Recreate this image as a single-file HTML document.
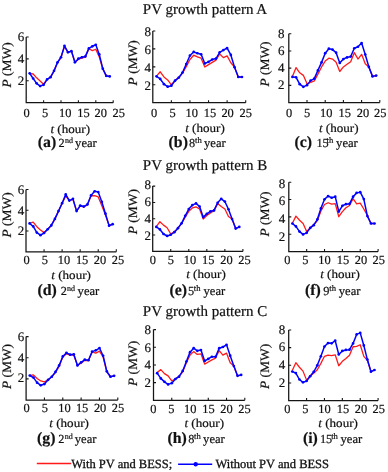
<!DOCTYPE html>
<html><head><meta charset="utf-8"><style>
html,body{margin:0;padding:0;background:#fff;width:388px;height:472px;overflow:hidden}
svg{display:block;will-change:transform;filter:blur(0.35px)}
text{text-rendering:geometricPrecision;font-family:"Liberation Serif",serif;fill:#111;stroke:#111;stroke-width:0.2px}
.ax{fill:none;stroke:#141414;stroke-width:1.25}
.tk{fill:none;stroke:#141414;stroke-width:1.1}
.rd{fill:none;stroke:#ff1a1a;stroke-width:1.3;stroke-linejoin:round}
.bl{fill:none;stroke:#0000ff;stroke-width:1.5;stroke-linejoin:round}
.dt circle{fill:#0000ff}
.tl{font-size:12.4px}
.ytl{font-size:13.0px}
.pl{font-size:12.8px}
.tlb{font-size:12px}
.bd{font-weight:bold;font-size:15.8px}
.cp{font-size:12.3px}
.yr{font-size:12.6px}
.nd{font-size:8.0px}
.th{font-size:8.6px}
.tt{font-size:15px}
.lg{font-size:12.5px;stroke-width:0.3px}
</style></head><body>
<svg width="388" height="472" viewBox="0 0 388 472">
<text transform="translate(205 14.2) scale(1 1)" class="tt" text-anchor="middle">PV growth pattern A</text><text transform="translate(205 170.1) scale(1 1)" class="tt" text-anchor="middle">PV growth pattern B</text><text transform="translate(205 315.5) scale(1 1)" class="tt" text-anchor="middle">PV growth pattern C</text>
<g><path d="M26.2 37V102.7H113.2" class="ax"/><path d="M26.2 80.8h2.5M26.2 58.9h2.5M26.2 37h2.5M43.6 102.7v-2.5M61 102.7v-2.5M78.4 102.7v-2.5M95.8 102.7v-2.5M113.2 102.7v-2.5" class="tk"/><polyline points="29.68,73.35 33.16,74.01 36.64,77.84 40.12,81.02 43.6,84.19 47.08,79.38 50.56,77.19 54.04,70.84 57.52,62.4 61,57.59 64.48,46.31 67.96,52.33 71.44,51.13 74.92,62.29 78.4,59.45 81.88,58.02 85.36,57.04 88.84,48.72 92.32,50.58 95.8,49.26 99.28,57.04 102.76,68.75 106.24,75.87 109.72,76.42" class="rd"/><polyline points="29.68,73.35 33.16,78.5 36.64,83.32 40.12,86.06 43.6,84.85 47.08,79.38 50.56,77.19 54.04,70.84 57.52,62.4 61,57.26 64.48,45.87 67.96,52.33 71.44,51.13 74.92,62.29 78.4,58.68 81.88,57.26 85.36,56.38 88.84,48.39 92.32,46.31 95.8,44.77 99.28,54.41 102.76,68.65 106.24,75.87 109.72,76.42" class="bl"/><g class="dt"><circle cx="29.68" cy="73.35" r="1.35"/><circle cx="33.16" cy="78.5" r="1.35"/><circle cx="36.64" cy="83.32" r="1.35"/><circle cx="40.12" cy="86.06" r="1.35"/><circle cx="43.6" cy="84.85" r="1.35"/><circle cx="47.08" cy="79.38" r="1.35"/><circle cx="50.56" cy="77.19" r="1.35"/><circle cx="54.04" cy="70.84" r="1.35"/><circle cx="57.52" cy="62.4" r="1.35"/><circle cx="61" cy="57.26" r="1.35"/><circle cx="64.48" cy="45.87" r="1.35"/><circle cx="67.96" cy="52.33" r="1.35"/><circle cx="71.44" cy="51.13" r="1.35"/><circle cx="74.92" cy="62.29" r="1.35"/><circle cx="78.4" cy="58.68" r="1.35"/><circle cx="81.88" cy="57.26" r="1.35"/><circle cx="85.36" cy="56.38" r="1.35"/><circle cx="88.84" cy="48.39" r="1.35"/><circle cx="92.32" cy="46.31" r="1.35"/><circle cx="95.8" cy="44.77" r="1.35"/><circle cx="99.28" cy="54.41" r="1.35"/><circle cx="102.76" cy="68.65" r="1.35"/><circle cx="106.24" cy="75.87" r="1.35"/><circle cx="109.72" cy="76.42" r="1.35"/></g><text x="26.6" y="116.9" class="tl" text-anchor="middle">0</text><text x="45.1" y="116.9" class="tl" text-anchor="middle">5</text><text x="65.3" y="116.9" class="tl" text-anchor="middle">10</text><text x="83.5" y="116.9" class="tl" text-anchor="middle">15</text><text x="100.8" y="116.9" class="tl" text-anchor="middle">20</text><text x="118.8" y="116.9" class="tl" text-anchor="middle">25</text><text x="24.3" y="85.1" class="ytl" text-anchor="end">2</text><text x="24.3" y="62.9" class="ytl" text-anchor="end">4</text><text x="24.3" y="40.7" class="ytl" text-anchor="end">6</text><text transform="translate(10.8 64.9) rotate(-90) scale(1.05 1)" class="pl" text-anchor="middle"><tspan font-style="italic">P</tspan> (MW)</text><text transform="translate(70.2 132.8) scale(1.09 1)" class="tlb" text-anchor="middle"><tspan font-style="italic">t</tspan> (hour)</text><text x="37.8" y="147" class="bd">(a)</text><text x="58.5" y="147" class="cp">2</text><text x="65" y="142.9" class="nd">nd</text><text x="75.1" y="147" class="yr">year</text></g>
<g><path d="M152.8 31V102.7H245.7" class="ax"/><path d="M152.8 84.78h2.5M152.8 66.85h2.5M152.8 48.92h2.5M152.8 31h2.5M171.38 102.7v-2.5M189.96 102.7v-2.5M208.54 102.7v-2.5M227.12 102.7v-2.5M245.7 102.7v-2.5" class="tk"/><polyline points="156.52,76.08 160.23,71.78 163.95,76.98 167.66,79.94 171.38,84.78 175.1,80.29 178.81,77.61 182.53,73.12 186.24,66.67 189.96,59.5 193.68,55.2 197.39,56.9 201.11,58.16 204.82,67.03 208.54,64.61 212.26,62.37 215.97,60.13 219.69,54.03 223.4,57.62 227.12,55.92 230.84,62.73 234.55,67.21 238.27,76.98 241.98,76.98" class="rd"/><polyline points="156.52,76.35 160.23,78.95 163.95,84.15 167.66,86.66 171.38,85.67 175.1,80.56 178.81,77.61 182.53,72.5 186.24,64.07 189.96,55.56 193.68,51.97 197.39,53.23 201.11,54.3 204.82,63.44 208.54,61.83 212.26,59.5 215.97,58.6 219.69,52.33 223.4,50.09 227.12,48.03 230.84,54.93 234.55,67.21 238.27,76.98 241.98,76.98" class="bl"/><g class="dt"><circle cx="156.52" cy="76.35" r="1.35"/><circle cx="160.23" cy="78.95" r="1.35"/><circle cx="163.95" cy="84.15" r="1.35"/><circle cx="167.66" cy="86.66" r="1.35"/><circle cx="171.38" cy="85.67" r="1.35"/><circle cx="175.1" cy="80.56" r="1.35"/><circle cx="178.81" cy="77.61" r="1.35"/><circle cx="182.53" cy="72.5" r="1.35"/><circle cx="186.24" cy="64.07" r="1.35"/><circle cx="189.96" cy="55.56" r="1.35"/><circle cx="193.68" cy="51.97" r="1.35"/><circle cx="197.39" cy="53.23" r="1.35"/><circle cx="201.11" cy="54.3" r="1.35"/><circle cx="204.82" cy="63.44" r="1.35"/><circle cx="208.54" cy="61.83" r="1.35"/><circle cx="212.26" cy="59.5" r="1.35"/><circle cx="215.97" cy="58.6" r="1.35"/><circle cx="219.69" cy="52.33" r="1.35"/><circle cx="223.4" cy="50.09" r="1.35"/><circle cx="227.12" cy="48.03" r="1.35"/><circle cx="230.84" cy="54.93" r="1.35"/><circle cx="234.55" cy="67.21" r="1.35"/><circle cx="238.27" cy="76.98" r="1.35"/><circle cx="241.98" cy="76.98" r="1.35"/></g><text x="154" y="117" class="tl" text-anchor="middle">0</text><text x="172.6" y="117" class="tl" text-anchor="middle">5</text><text x="191.8" y="117" class="tl" text-anchor="middle">10</text><text x="209.9" y="117" class="tl" text-anchor="middle">15</text><text x="227.6" y="117" class="tl" text-anchor="middle">20</text><text x="245.7" y="117" class="tl" text-anchor="middle">25</text><text x="151" y="89.8" class="ytl" text-anchor="end">2</text><text x="151" y="71.83" class="ytl" text-anchor="end">4</text><text x="151" y="53.87" class="ytl" text-anchor="end">6</text><text x="151" y="35.9" class="ytl" text-anchor="end">8</text><text transform="translate(137.2 62.8) rotate(-90) scale(1.05 1)" class="pl" text-anchor="middle"><tspan font-style="italic">P</tspan> (MW)</text><text transform="translate(205 132) scale(1.09 1)" class="tlb" text-anchor="middle"><tspan font-style="italic">t</tspan> (hour)</text><text x="168.6" y="146.8" class="bd">(b)</text><text x="188.9" y="146.8" class="cp">8</text><text x="195.1" y="142.7" class="th">th</text><text x="204" y="146.8" class="yr">year</text></g>
<g><path d="M288.8 33.8V102.5H379.8" class="ax"/><path d="M288.8 85.33h2.5M288.8 68.15h2.5M288.8 50.97h2.5M288.8 33.8h2.5M307 102.5v-2.5M325.2 102.5v-2.5M343.4 102.5v-2.5M361.6 102.5v-2.5M379.8 102.5v-2.5" class="tk"/><polyline points="292.44,76.39 296.08,67.55 299.72,72.79 303.36,75.36 307,83.78 310.64,82.49 314.28,80.86 317.92,74.08 321.56,66.95 325.2,61.11 328.84,58.19 332.48,59.05 336.12,62.14 339.76,71.5 343.4,66.95 347.04,64.29 350.68,61.71 354.32,52.61 357.96,59.05 361.6,54.32 365.24,63.68 368.88,66.95 372.52,76.39 376.16,75.62" class="rd"/><polyline points="292.44,76.91 296.08,77.34 299.72,84.21 303.36,86.87 307,85.15 310.64,80.6 314.28,78.63 317.92,70.38 321.56,62.4 325.2,53.21 328.84,48.66 332.48,49.6 336.12,52.69 339.76,63 343.4,59.05 347.04,57.42 350.68,56.56 354.32,48.23 357.96,46.77 361.6,43.07 365.24,54.5 368.88,66.95 372.52,76.39 376.16,75.62" class="bl"/><g class="dt"><circle cx="292.44" cy="76.91" r="1.35"/><circle cx="296.08" cy="77.34" r="1.35"/><circle cx="299.72" cy="84.21" r="1.35"/><circle cx="303.36" cy="86.87" r="1.35"/><circle cx="307" cy="85.15" r="1.35"/><circle cx="310.64" cy="80.6" r="1.35"/><circle cx="314.28" cy="78.63" r="1.35"/><circle cx="317.92" cy="70.38" r="1.35"/><circle cx="321.56" cy="62.4" r="1.35"/><circle cx="325.2" cy="53.21" r="1.35"/><circle cx="328.84" cy="48.66" r="1.35"/><circle cx="332.48" cy="49.6" r="1.35"/><circle cx="336.12" cy="52.69" r="1.35"/><circle cx="339.76" cy="63" r="1.35"/><circle cx="343.4" cy="59.05" r="1.35"/><circle cx="347.04" cy="57.42" r="1.35"/><circle cx="350.68" cy="56.56" r="1.35"/><circle cx="354.32" cy="48.23" r="1.35"/><circle cx="357.96" cy="46.77" r="1.35"/><circle cx="361.6" cy="43.07" r="1.35"/><circle cx="365.24" cy="54.5" r="1.35"/><circle cx="368.88" cy="66.95" r="1.35"/><circle cx="372.52" cy="76.39" r="1.35"/><circle cx="376.16" cy="75.62" r="1.35"/></g><text x="289" y="117" class="tl" text-anchor="middle">0</text><text x="307.1" y="117" class="tl" text-anchor="middle">5</text><text x="326.3" y="117" class="tl" text-anchor="middle">10</text><text x="344.8" y="117" class="tl" text-anchor="middle">15</text><text x="363" y="117" class="tl" text-anchor="middle">20</text><text x="380.2" y="117" class="tl" text-anchor="middle">25</text><text x="284.6" y="89.2" class="ytl" text-anchor="end">2</text><text x="284.6" y="72" class="ytl" text-anchor="end">4</text><text x="284.6" y="54.8" class="ytl" text-anchor="end">6</text><text x="284.6" y="37.6" class="ytl" text-anchor="end">8</text><text transform="translate(269.4 64) rotate(-90) scale(1.05 1)" class="pl" text-anchor="middle"><tspan font-style="italic">P</tspan> (MW)</text><text transform="translate(338.7 131.5) scale(1.09 1)" class="tlb" text-anchor="middle"><tspan font-style="italic">t</tspan> (hour)</text><text x="294.6" y="146.8" class="bd">(c)</text><text x="316.4" y="146.8" class="cp">15</text><text x="326.6" y="142.7" class="th">th</text><text x="336.1" y="146.8" class="yr">year</text></g>
<g><path d="M26 189.5V251.8H116.3" class="ax"/><path d="M26 231.03h2.5M26 210.27h2.5M26 189.5h2.5M44.06 251.8v-2.5M62.12 251.8v-2.5M80.18 251.8v-2.5M98.24 251.8v-2.5M116.3 251.8v-2.5" class="tk"/><polyline points="29.61,223.45 33.22,222.1 36.84,226.67 40.45,230 44.06,232.59 47.67,229.27 51.28,225.43 54.9,218.88 58.51,211.1 62.12,203.21 65.73,196.04 69.34,200.61 72.96,199.36 76.57,211.1 80.18,206.11 83.79,206.84 87.4,204.87 91.02,195.73 94.63,195.73 98.24,196.98 101.85,205.8 105.46,214.94 109.08,225.63 112.69,224.18" class="rd"/><polyline points="29.61,223.45 33.22,226.46 36.84,232.59 40.45,235.19 44.06,233.01 47.67,229.27 51.28,225.43 54.9,218.88 58.51,211.1 62.12,203.21 65.73,194.38 69.34,200.61 72.96,198.84 76.57,211.1 80.18,205.59 83.79,206.53 87.4,204.45 91.02,195.42 94.63,191.27 98.24,192.1 101.85,201.96 105.46,213.69 109.08,225.63 112.69,224.18" class="bl"/><g class="dt"><circle cx="29.61" cy="223.45" r="1.35"/><circle cx="33.22" cy="226.46" r="1.35"/><circle cx="36.84" cy="232.59" r="1.35"/><circle cx="40.45" cy="235.19" r="1.35"/><circle cx="44.06" cy="233.01" r="1.35"/><circle cx="47.67" cy="229.27" r="1.35"/><circle cx="51.28" cy="225.43" r="1.35"/><circle cx="54.9" cy="218.88" r="1.35"/><circle cx="58.51" cy="211.1" r="1.35"/><circle cx="62.12" cy="203.21" r="1.35"/><circle cx="65.73" cy="194.38" r="1.35"/><circle cx="69.34" cy="200.61" r="1.35"/><circle cx="72.96" cy="198.84" r="1.35"/><circle cx="76.57" cy="211.1" r="1.35"/><circle cx="80.18" cy="205.59" r="1.35"/><circle cx="83.79" cy="206.53" r="1.35"/><circle cx="87.4" cy="204.45" r="1.35"/><circle cx="91.02" cy="195.42" r="1.35"/><circle cx="94.63" cy="191.27" r="1.35"/><circle cx="98.24" cy="192.1" r="1.35"/><circle cx="101.85" cy="201.96" r="1.35"/><circle cx="105.46" cy="213.69" r="1.35"/><circle cx="109.08" cy="225.63" r="1.35"/><circle cx="112.69" cy="224.18" r="1.35"/></g><text x="26.5" y="264.4" class="tl" text-anchor="middle">0</text><text x="44.8" y="264.4" class="tl" text-anchor="middle">5</text><text x="63.9" y="264.4" class="tl" text-anchor="middle">10</text><text x="82.1" y="264.4" class="tl" text-anchor="middle">15</text><text x="99.9" y="264.4" class="tl" text-anchor="middle">20</text><text x="118" y="264.4" class="tl" text-anchor="middle">25</text><text x="24.3" y="235.2" class="ytl" text-anchor="end">2</text><text x="24.3" y="214.75" class="ytl" text-anchor="end">4</text><text x="24.3" y="194.3" class="ytl" text-anchor="end">6</text><text transform="translate(10.8 214.9) rotate(-90) scale(1.05 1)" class="pl" text-anchor="middle"><tspan font-style="italic">P</tspan> (MW)</text><text transform="translate(71.1 279) scale(1.09 1)" class="tlb" text-anchor="middle"><tspan font-style="italic">t</tspan> (hour)</text><text x="37.5" y="295" class="bd">(d)</text><text x="60.7" y="295" class="cp">2</text><text x="66.9" y="290.9" class="nd">nd</text><text x="77.6" y="295" class="yr">year</text></g>
<g><path d="M152.7 186.1V251.4H242.9" class="ax"/><path d="M152.7 235.07h2.5M152.7 218.75h2.5M152.7 202.43h2.5M152.7 186.1h2.5M170.74 251.4v-2.5M188.78 251.4v-2.5M206.82 251.4v-2.5M224.86 251.4v-2.5M242.9 251.4v-2.5" class="tk"/><polyline points="156.31,226.59 159.92,221.69 163.52,225.12 167.13,227.73 170.74,234.01 174.35,231.81 177.96,228.14 181.56,223.65 185.17,217.12 188.78,211.32 192.39,207.98 196,206.91 199.6,208.95 203.21,219.08 206.82,215.57 210.43,212.87 214.04,210.59 217.64,203.4 221.25,206.51 224.86,209.04 228.47,216.46 232.08,219.08 235.68,228.55 239.29,226.91" class="rd"/><polyline points="156.31,226.91 159.92,229.44 163.52,234.01 167.13,235.97 170.74,234.75 174.35,232.14 177.96,228.14 181.56,223.32 185.17,215.81 188.78,209.04 192.39,205.12 196,203.4 199.6,206.51 203.21,217.12 206.82,213.85 210.43,211.32 214.04,210.42 217.64,202.83 221.25,198.83 224.86,201.53 228.47,209.28 232.08,219.08 235.68,228.55 239.29,226.91" class="bl"/><g class="dt"><circle cx="156.31" cy="226.91" r="1.35"/><circle cx="159.92" cy="229.44" r="1.35"/><circle cx="163.52" cy="234.01" r="1.35"/><circle cx="167.13" cy="235.97" r="1.35"/><circle cx="170.74" cy="234.75" r="1.35"/><circle cx="174.35" cy="232.14" r="1.35"/><circle cx="177.96" cy="228.14" r="1.35"/><circle cx="181.56" cy="223.32" r="1.35"/><circle cx="185.17" cy="215.81" r="1.35"/><circle cx="188.78" cy="209.04" r="1.35"/><circle cx="192.39" cy="205.12" r="1.35"/><circle cx="196" cy="203.4" r="1.35"/><circle cx="199.6" cy="206.51" r="1.35"/><circle cx="203.21" cy="217.12" r="1.35"/><circle cx="206.82" cy="213.85" r="1.35"/><circle cx="210.43" cy="211.32" r="1.35"/><circle cx="214.04" cy="210.42" r="1.35"/><circle cx="217.64" cy="202.83" r="1.35"/><circle cx="221.25" cy="198.83" r="1.35"/><circle cx="224.86" cy="201.53" r="1.35"/><circle cx="228.47" cy="209.28" r="1.35"/><circle cx="232.08" cy="219.08" r="1.35"/><circle cx="235.68" cy="228.55" r="1.35"/><circle cx="239.29" cy="226.91" r="1.35"/></g><text x="152.9" y="263.6" class="tl" text-anchor="middle">0</text><text x="170.8" y="263.6" class="tl" text-anchor="middle">5</text><text x="189.9" y="263.6" class="tl" text-anchor="middle">10</text><text x="208.3" y="263.6" class="tl" text-anchor="middle">15</text><text x="226.5" y="263.6" class="tl" text-anchor="middle">20</text><text x="244.4" y="263.6" class="tl" text-anchor="middle">25</text><text x="151" y="239.5" class="ytl" text-anchor="end">2</text><text x="151" y="222.63" class="ytl" text-anchor="end">4</text><text x="151" y="205.77" class="ytl" text-anchor="end">6</text><text x="151" y="188.9" class="ytl" text-anchor="end">8</text><text transform="translate(137.2 211.7) rotate(-90) scale(1.05 1)" class="pl" text-anchor="middle"><tspan font-style="italic">P</tspan> (MW)</text><text transform="translate(206 278.4) scale(1.09 1)" class="tlb" text-anchor="middle"><tspan font-style="italic">t</tspan> (hour)</text><text x="169.6" y="295" class="bd">(e)</text><text x="187.9" y="295" class="cp">5</text><text x="193.8" y="290.9" class="th">th</text><text x="203.5" y="295" class="yr">year</text></g>
<g><path d="M288.8 182.2V251.6H378.1" class="ax"/><path d="M288.8 234.25h2.5M288.8 216.9h2.5M288.8 199.55h2.5M288.8 182.2h2.5M306.66 251.6v-2.5M324.52 251.6v-2.5M342.38 251.6v-2.5M360.24 251.6v-2.5M378.1 251.6v-2.5" class="tk"/><polyline points="292.37,223.23 295.94,216.12 299.52,220.2 303.09,223.49 306.66,231.56 310.23,227.66 313.8,224.45 317.38,220.63 320.95,210.91 324.52,204.49 328.09,202.76 331.66,204.15 335.24,203.63 338.81,216.73 342.38,211.61 345.95,207.7 349.52,205.45 353.1,198.68 356.67,203.8 360.24,203.19 363.81,209.01 367.38,215.43 370.96,223.49 374.53,223.49" class="rd"/><polyline points="292.37,223.49 295.94,226.44 299.52,231.56 303.09,234.42 306.66,232.86 310.23,227.92 313.8,225.14 317.38,219.33 320.95,208.31 324.52,199.29 328.09,196.08 331.66,197.73 335.24,196.69 338.81,211.61 342.38,205.8 345.95,204.15 349.52,203.8 353.1,196.69 356.67,192.87 360.24,192.18 363.81,199.12 367.38,216.12 370.96,223.49 374.53,223.49" class="bl"/><g class="dt"><circle cx="292.37" cy="223.49" r="1.35"/><circle cx="295.94" cy="226.44" r="1.35"/><circle cx="299.52" cy="231.56" r="1.35"/><circle cx="303.09" cy="234.42" r="1.35"/><circle cx="306.66" cy="232.86" r="1.35"/><circle cx="310.23" cy="227.92" r="1.35"/><circle cx="313.8" cy="225.14" r="1.35"/><circle cx="317.38" cy="219.33" r="1.35"/><circle cx="320.95" cy="208.31" r="1.35"/><circle cx="324.52" cy="199.29" r="1.35"/><circle cx="328.09" cy="196.08" r="1.35"/><circle cx="331.66" cy="197.73" r="1.35"/><circle cx="335.24" cy="196.69" r="1.35"/><circle cx="338.81" cy="211.61" r="1.35"/><circle cx="342.38" cy="205.8" r="1.35"/><circle cx="345.95" cy="204.15" r="1.35"/><circle cx="349.52" cy="203.8" r="1.35"/><circle cx="353.1" cy="196.69" r="1.35"/><circle cx="356.67" cy="192.87" r="1.35"/><circle cx="360.24" cy="192.18" r="1.35"/><circle cx="363.81" cy="199.12" r="1.35"/><circle cx="367.38" cy="216.12" r="1.35"/><circle cx="370.96" cy="223.49" r="1.35"/><circle cx="374.53" cy="223.49" r="1.35"/></g><text x="287.4" y="264.4" class="tl" text-anchor="middle">0</text><text x="305.3" y="264.4" class="tl" text-anchor="middle">5</text><text x="324.5" y="264.4" class="tl" text-anchor="middle">10</text><text x="343" y="264.4" class="tl" text-anchor="middle">15</text><text x="360.9" y="264.4" class="tl" text-anchor="middle">20</text><text x="378.8" y="264.4" class="tl" text-anchor="middle">25</text><text x="285.3" y="240.5" class="ytl" text-anchor="end">2</text><text x="285.3" y="222.97" class="ytl" text-anchor="end">4</text><text x="285.3" y="205.43" class="ytl" text-anchor="end">6</text><text x="285.3" y="187.9" class="ytl" text-anchor="end">8</text><text transform="translate(269.4 214) rotate(-90) scale(1.05 1)" class="pl" text-anchor="middle"><tspan font-style="italic">P</tspan> (MW)</text><text transform="translate(340 278.4) scale(1.09 1)" class="tlb" text-anchor="middle"><tspan font-style="italic">t</tspan> (hour)</text><text x="304.9" y="295" class="bd">(f)</text><text x="323.2" y="295" class="cp">9</text><text x="329.3" y="290.9" class="th">th</text><text x="338.8" y="295" class="yr">year</text></g>
<g><path d="M26.1 336.6V400H117.8" class="ax"/><path d="M26.1 378.87h2.5M26.1 357.73h2.5M26.1 336.6h2.5M44.44 400v-2.5M62.78 400v-2.5M81.12 400v-2.5M99.46 400v-2.5M117.8 400v-2.5" class="tk"/><polyline points="29.77,375.49 33.44,374.96 37.1,378.44 40.77,380.98 44.44,381.93 48.11,379.82 51.78,376.75 55.44,372.63 59.11,366.4 62.78,356.99 66.45,353.82 70.12,355.09 73.78,355.09 77.45,365.13 81.12,363.23 84.79,360.27 88.46,360.59 92.12,351.92 95.79,353.08 99.46,351.18 103.13,356.99 106.8,371.89 110.46,376.75 114.13,375.8" class="rd"/><polyline points="29.77,375.49 33.44,377.6 37.1,382.67 40.77,385.31 44.44,384.04 48.11,379.82 51.78,376.75 55.44,371.89 59.11,365.45 62.78,356.47 66.45,352.87 70.12,354.67 73.78,354.35 77.45,365.45 81.12,362.28 84.79,359.64 88.46,360.27 92.12,351.6 95.79,350.34 99.46,348.01 103.13,355.73 106.8,371.36 110.46,376.75 114.13,375.8" class="bl"/><g class="dt"><circle cx="29.77" cy="375.49" r="1.35"/><circle cx="33.44" cy="377.6" r="1.35"/><circle cx="37.1" cy="382.67" r="1.35"/><circle cx="40.77" cy="385.31" r="1.35"/><circle cx="44.44" cy="384.04" r="1.35"/><circle cx="48.11" cy="379.82" r="1.35"/><circle cx="51.78" cy="376.75" r="1.35"/><circle cx="55.44" cy="371.89" r="1.35"/><circle cx="59.11" cy="365.45" r="1.35"/><circle cx="62.78" cy="356.47" r="1.35"/><circle cx="66.45" cy="352.87" r="1.35"/><circle cx="70.12" cy="354.67" r="1.35"/><circle cx="73.78" cy="354.35" r="1.35"/><circle cx="77.45" cy="365.45" r="1.35"/><circle cx="81.12" cy="362.28" r="1.35"/><circle cx="84.79" cy="359.64" r="1.35"/><circle cx="88.46" cy="360.27" r="1.35"/><circle cx="92.12" cy="351.6" r="1.35"/><circle cx="95.79" cy="350.34" r="1.35"/><circle cx="99.46" cy="348.01" r="1.35"/><circle cx="103.13" cy="355.73" r="1.35"/><circle cx="106.8" cy="371.36" r="1.35"/><circle cx="110.46" cy="376.75" r="1.35"/><circle cx="114.13" cy="375.8" r="1.35"/></g><text x="26.5" y="411.6" class="tl" text-anchor="middle">0</text><text x="44.8" y="411.6" class="tl" text-anchor="middle">5</text><text x="64.4" y="411.6" class="tl" text-anchor="middle">10</text><text x="82.1" y="411.6" class="tl" text-anchor="middle">15</text><text x="100.1" y="411.6" class="tl" text-anchor="middle">20</text><text x="117.9" y="411.6" class="tl" text-anchor="middle">25</text><text x="24.3" y="382.3" class="ytl" text-anchor="end">2</text><text x="24.3" y="361.75" class="ytl" text-anchor="end">4</text><text x="24.3" y="341.2" class="ytl" text-anchor="end">6</text><text transform="translate(10.8 366.5) rotate(-90) scale(1.05 1)" class="pl" text-anchor="middle"><tspan font-style="italic">P</tspan> (MW)</text><text transform="translate(69.1 427.3) scale(1.09 1)" class="tlb" text-anchor="middle"><tspan font-style="italic">t</tspan> (hour)</text><text x="37.1" y="442.6" class="bd">(g)</text><text x="58.3" y="442.6" class="cp">2</text><text x="64.8" y="438.5" class="nd">nd</text><text x="74.8" y="442.6" class="yr">year</text></g>
<g><path d="M153.5 329.6V400.3H244.8" class="ax"/><path d="M153.5 382.62h2.5M153.5 364.95h2.5M153.5 347.28h2.5M153.5 329.6h2.5M171.76 400.3v-2.5M190.02 400.3v-2.5M208.28 400.3v-2.5M226.54 400.3v-2.5M244.8 400.3v-2.5" class="tk"/><polyline points="157.15,372.55 160.8,369.63 164.46,373.61 168.11,375.82 171.76,380.95 175.41,378.74 179.06,376.26 182.72,371.84 186.37,362.83 190.02,355.14 193.67,351.61 197.32,354.43 200.98,353.81 204.63,364.15 208.28,361.95 211.93,359.82 215.58,358.06 219.24,350.54 222.89,355.14 226.54,353.11 230.19,362.83 233.84,366.01 237.5,375.82 241.15,374.94" class="rd"/><polyline points="157.15,373.17 160.8,378.38 164.46,381.83 168.11,384.39 171.76,383.16 175.41,379 179.06,376.7 182.72,370.96 186.37,361.5 190.02,352.14 193.67,348.16 197.32,350.81 200.98,350.1 204.63,360.97 208.28,358.94 211.93,356.73 215.58,356.73 219.24,348.16 222.89,347.01 226.54,344.8 230.19,355.67 233.84,366.01 237.5,375.82 241.15,374.94" class="bl"/><g class="dt"><circle cx="157.15" cy="373.17" r="1.35"/><circle cx="160.8" cy="378.38" r="1.35"/><circle cx="164.46" cy="381.83" r="1.35"/><circle cx="168.11" cy="384.39" r="1.35"/><circle cx="171.76" cy="383.16" r="1.35"/><circle cx="175.41" cy="379" r="1.35"/><circle cx="179.06" cy="376.7" r="1.35"/><circle cx="182.72" cy="370.96" r="1.35"/><circle cx="186.37" cy="361.5" r="1.35"/><circle cx="190.02" cy="352.14" r="1.35"/><circle cx="193.67" cy="348.16" r="1.35"/><circle cx="197.32" cy="350.81" r="1.35"/><circle cx="200.98" cy="350.1" r="1.35"/><circle cx="204.63" cy="360.97" r="1.35"/><circle cx="208.28" cy="358.94" r="1.35"/><circle cx="211.93" cy="356.73" r="1.35"/><circle cx="215.58" cy="356.73" r="1.35"/><circle cx="219.24" cy="348.16" r="1.35"/><circle cx="222.89" cy="347.01" r="1.35"/><circle cx="226.54" cy="344.8" r="1.35"/><circle cx="230.19" cy="355.67" r="1.35"/><circle cx="233.84" cy="366.01" r="1.35"/><circle cx="237.5" cy="375.82" r="1.35"/><circle cx="241.15" cy="374.94" r="1.35"/></g><text x="153.3" y="412.8" class="tl" text-anchor="middle">0</text><text x="171.4" y="412.8" class="tl" text-anchor="middle">5</text><text x="190.2" y="412.8" class="tl" text-anchor="middle">10</text><text x="208.5" y="412.8" class="tl" text-anchor="middle">15</text><text x="226.5" y="412.8" class="tl" text-anchor="middle">20</text><text x="244.4" y="412.8" class="tl" text-anchor="middle">25</text><text x="151" y="386.8" class="ytl" text-anchor="end">2</text><text x="151" y="369.2" class="ytl" text-anchor="end">4</text><text x="151" y="351.6" class="ytl" text-anchor="end">6</text><text x="151" y="334" class="ytl" text-anchor="end">8</text><text transform="translate(137.2 363.4) rotate(-90) scale(1.05 1)" class="pl" text-anchor="middle"><tspan font-style="italic">P</tspan> (MW)</text><text transform="translate(204.2 427.3) scale(1.09 1)" class="tlb" text-anchor="middle"><tspan font-style="italic">t</tspan> (hour)</text><text x="167.5" y="443" class="bd">(h)</text><text x="188.3" y="443" class="cp">8</text><text x="194" y="438.9" class="th">th</text><text x="203.1" y="443" class="yr">year</text></g>
<g><path d="M288.7 330V400.6H378.1" class="ax"/><path d="M288.7 382.95h2.5M288.7 365.3h2.5M288.7 347.65h2.5M288.7 330h2.5M306.58 400.6v-2.5M324.46 400.6v-2.5M342.34 400.6v-2.5M360.22 400.6v-2.5M378.1 400.6v-2.5" class="tk"/><polyline points="292.28,370.51 295.85,362.65 299.43,367.24 303,371.12 306.58,380.13 310.16,375.89 313.73,373.33 317.31,369.8 320.88,363.36 324.46,356.3 328.04,355.15 331.61,355.59 335.19,354.8 338.76,365.74 342.34,361.33 345.92,358.42 349.49,355.33 353.07,346.77 356.64,346.33 360.22,344.74 363.8,356.39 367.37,360.27 370.95,371.65 374.52,369.98" class="rd"/><polyline points="292.28,371.48 295.85,373.07 299.43,379.51 303,382.33 306.58,381.01 310.16,376.24 313.73,371.74 317.31,365.3 320.88,356.3 324.46,346.59 328.04,343.06 331.61,343.33 335.19,340.68 338.76,354.45 342.34,350.92 345.92,349.94 349.49,349.68 353.07,343.41 356.64,334.41 360.22,332.91 363.8,345.44 367.37,359.56 370.95,371.65 374.52,369.98" class="bl"/><g class="dt"><circle cx="292.28" cy="371.48" r="1.35"/><circle cx="295.85" cy="373.07" r="1.35"/><circle cx="299.43" cy="379.51" r="1.35"/><circle cx="303" cy="382.33" r="1.35"/><circle cx="306.58" cy="381.01" r="1.35"/><circle cx="310.16" cy="376.24" r="1.35"/><circle cx="313.73" cy="371.74" r="1.35"/><circle cx="317.31" cy="365.3" r="1.35"/><circle cx="320.88" cy="356.3" r="1.35"/><circle cx="324.46" cy="346.59" r="1.35"/><circle cx="328.04" cy="343.06" r="1.35"/><circle cx="331.61" cy="343.33" r="1.35"/><circle cx="335.19" cy="340.68" r="1.35"/><circle cx="338.76" cy="354.45" r="1.35"/><circle cx="342.34" cy="350.92" r="1.35"/><circle cx="345.92" cy="349.94" r="1.35"/><circle cx="349.49" cy="349.68" r="1.35"/><circle cx="353.07" cy="343.41" r="1.35"/><circle cx="356.64" cy="334.41" r="1.35"/><circle cx="360.22" cy="332.91" r="1.35"/><circle cx="363.8" cy="345.44" r="1.35"/><circle cx="367.37" cy="359.56" r="1.35"/><circle cx="370.95" cy="371.65" r="1.35"/><circle cx="374.52" cy="369.98" r="1.35"/></g><text x="287.4" y="413" class="tl" text-anchor="middle">0</text><text x="305.4" y="413" class="tl" text-anchor="middle">5</text><text x="324.5" y="413" class="tl" text-anchor="middle">10</text><text x="343" y="413" class="tl" text-anchor="middle">15</text><text x="360.9" y="413" class="tl" text-anchor="middle">20</text><text x="378.8" y="413" class="tl" text-anchor="middle">25</text><text x="285.3" y="386.6" class="ytl" text-anchor="end">2</text><text x="285.3" y="369.03" class="ytl" text-anchor="end">4</text><text x="285.3" y="351.47" class="ytl" text-anchor="end">6</text><text x="285.3" y="333.9" class="ytl" text-anchor="end">8</text><text transform="translate(269.4 366.4) rotate(-90) scale(1.05 1)" class="pl" text-anchor="middle"><tspan font-style="italic">P</tspan> (MW)</text><text transform="translate(338.1 427.3) scale(1.09 1)" class="tlb" text-anchor="middle"><tspan font-style="italic">t</tspan> (hour)</text><text x="302.9" y="443" class="bd">(i)</text><text x="319.9" y="443" class="cp">15</text><text x="331.2" y="438.9" class="th">th</text><text x="340.5" y="443" class="yr">year</text></g>
<path d="M36.8 463.4H71.2" stroke="#ff1a1a" stroke-width="1.5"/><text x="71.2" y="467.5" class="lg">With PV and BESS;</text><path d="M178.1 464.2H212.2" stroke="#0000ff" stroke-width="1.6"/><circle cx="195.7" cy="464.2" r="2.2" fill="#0000ff"/><text x="215.5" y="467.5" class="lg">Without PV and BESS</text>
</svg>
</body></html>
